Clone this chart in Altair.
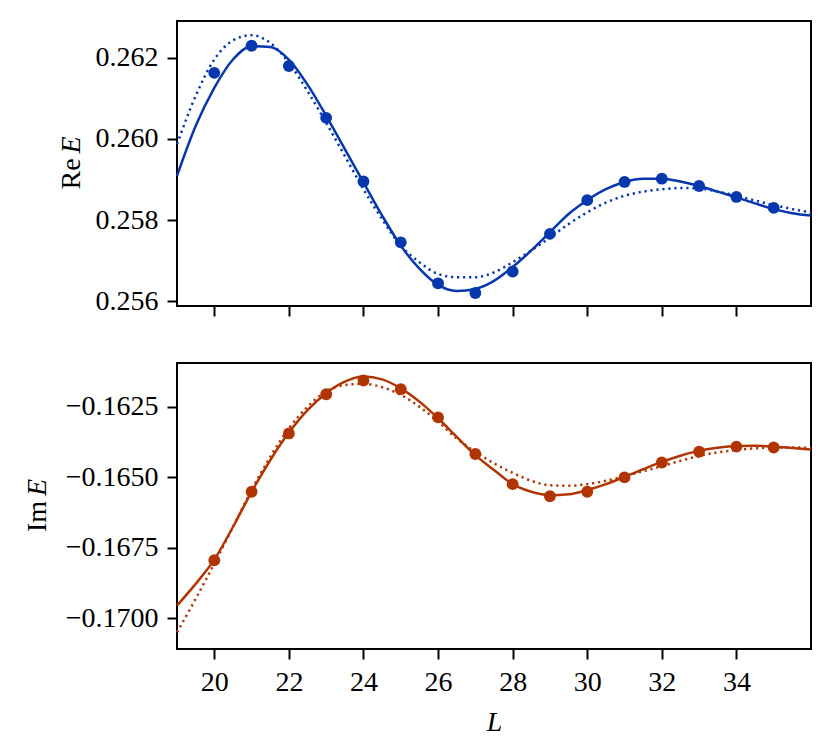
import altair as alt
import pandas as pd

# ---- data ----
L_pts = [20, 21, 22, 23, 24, 25, 26, 27, 28, 29, 30, 31, 32, 33, 34, 35]
re_pts = [0.26163, 0.26230, 0.26180, 0.26052, 0.25895, 0.25745, 0.25644, 0.25620,
          0.25673, 0.25766, 0.25849, 0.25894, 0.25902, 0.25884, 0.25857, 0.25830]
im_pts = [-0.16794, -0.16551, -0.16344, -0.16205, -0.16156, -0.16187, -0.16287, -0.16417,
          -0.16524, -0.16567, -0.16551, -0.16500, -0.16447, -0.16409, -0.16391, -0.16394]

L_fit = [19, 19.5, 20, 20.5, 21, 21.5, 22, 22.5, 23, 23.5, 24, 24.5, 25, 25.5, 26, 26.5,
         27, 27.5, 28, 28.5, 29, 29.5, 30, 30.5, 31, 31.5, 32, 32.5, 33, 33.5, 34, 34.5,
         35, 35.5, 36]
re_solid = [0.25909, 0.26032, 0.26126, 0.26196, 0.26229, 0.26227, 0.26196, 0.26134, 0.26057,
            0.25975, 0.25893, 0.25811, 0.25737, 0.25680, 0.25640, 0.25625, 0.25630, 0.25650,
            0.25684, 0.25725, 0.25770, 0.25815, 0.25849, 0.25876, 0.25894, 0.25902, 0.25902,
            0.25895, 0.25884, 0.25870, 0.25856, 0.25841, 0.25827, 0.25817, 0.25811]
re_dotted = [0.25987, 0.26106, 0.26196, 0.26243, 0.26256, 0.26237, 0.26188, 0.26118, 0.26040,
             0.25958, 0.25876, 0.25802, 0.25737, 0.25696, 0.25667, 0.25659, 0.25659, 0.25671,
             0.25696, 0.25725, 0.25757, 0.25790, 0.25819, 0.25843, 0.25860, 0.25870, 0.25876,
             0.25879, 0.25878, 0.25870, 0.25860, 0.25848, 0.25837, 0.25827, 0.25819]
im_solid = [-0.16955, -0.16878, -0.16792, -0.16676, -0.16551, -0.16439, -0.16341, -0.16261,
            -0.16201, -0.16160, -0.16142, -0.16152, -0.16184, -0.16231, -0.16290, -0.16356,
            -0.16421, -0.16474, -0.16524, -0.16551, -0.16563, -0.16560, -0.16545, -0.16524,
            -0.16498, -0.16471, -0.16445, -0.16423, -0.16405, -0.16395, -0.16389, -0.16388,
            -0.16391, -0.16396, -0.16401]
im_dotted = [-0.17050, -0.16931, -0.16806, -0.16676, -0.16545, -0.16427, -0.16326, -0.16249,
             -0.16195, -0.16172, -0.16168, -0.16180, -0.16207, -0.16249, -0.16302, -0.16362,
             -0.16409, -0.16450, -0.16484, -0.16512, -0.16528, -0.16530, -0.16524, -0.16512,
             -0.16496, -0.16478, -0.16460, -0.16441, -0.16424, -0.16411, -0.16403, -0.16397,
             -0.16394, -0.16394, -0.16395]

x_ticks = [20, 22, 24, 26, 28, 30, 32, 34]
re_ticks = [0.256, 0.258, 0.260, 0.262]
im_ticks = [-0.1625, -0.1650, -0.1675, -0.1700]

BLUE = "#0637ad"
RUST = "#b13502"
FONT = "Liberation Serif"
FS = 28

pts = pd.DataFrame({"L": L_pts, "re": re_pts, "im": im_pts})
fit = pd.DataFrame({"L": L_fit, "re_fit": re_solid, "re_alt": re_dotted,
                    "im_fit": im_solid, "im_alt": im_dotted})

W = 634


def panel(fp, ff, fa, domain, ticks, fmt, color, bottom, prefix, h, title_x):
    xax = alt.Axis(values=x_ticks, labels=bottom, title="L" if bottom else None,
                   titleFontStyle="italic", grid=False, labelFont=FONT, titleFont=FONT,
                   labelFontSize=FS, titleFontSize=FS)
    xs = alt.Scale(domain=[19, 36], nice=False, zero=False)
    ys = alt.Scale(domain=domain, nice=False, zero=False)
    yax = alt.Axis(values=ticks, format=fmt, title=None, grid=False, labelFont=FONT,
                   labelFontSize=FS)
    x = alt.X("L:Q", scale=xs, axis=xax)

    solid = alt.Chart(fit).mark_line(color=color, strokeWidth=2.5, interpolate="monotone").encode(
        x=x, y=alt.Y(f"{ff}:Q", scale=ys, axis=yax))
    dotted = alt.Chart(fit).mark_line(color=color, strokeWidth=2.5, strokeDash=[2.2, 3.8],
                                      interpolate="monotone").encode(
        x=x, y=alt.Y(f"{fa}:Q", scale=ys, axis=yax))
    dots = alt.Chart(pts).mark_circle(color=color, size=140, opacity=1).encode(
        x=x, y=alt.Y(f"{fp}:Q", scale=ys, axis=yax))

    t1 = alt.Chart(pd.DataFrame({"a": [0]})).mark_text(
        text=prefix, font=FONT, fontSize=FS, angle=270, align="left", baseline="middle",
        color="black").encode(x=alt.value(title_x), y=alt.value(h / 2 + 26))
    t2 = alt.Chart(pd.DataFrame({"a": [0]})).mark_text(
        text="E", font=FONT, fontSize=FS, fontStyle="italic", angle=270, align="left",
        baseline="middle", color="black").encode(x=alt.value(title_x), y=alt.value(h / 2 - 10))

    return alt.layer(dotted, solid, dots, t1, t2).properties(width=W, height=h)


top = panel("re", "re_fit", "re_alt", [0.25588, 0.26291], re_ticks, ".3f", BLUE,
            False, "Re", 285, -105)
bottom = panel("im", "im_fit", "im_alt", [-0.17109, -0.16094], im_ticks, ".4f", RUST,
               True, "Im", 286, -139)

chart = alt.vconcat(top, bottom, spacing=44).properties(
    padding={"left": 15, "top": 12, "right": 5, "bottom": 5}
).configure(font=FONT).configure_view(
    stroke="black", strokeWidth=2
).configure_axis(
    labelFont=FONT, labelFontSize=FS, labelColor="black", labelPadding=9,
    titleFont=FONT, titleFontSize=FS, titleColor="black", titleFontWeight="normal",
    titlePadding=12, tickColor="black", tickWidth=2, tickSize=10, domain=False,
    labelFlush=False, labelOverlap=False
)

chart.save("out.html", embed_options={"renderer": "svg", "actions": False})
